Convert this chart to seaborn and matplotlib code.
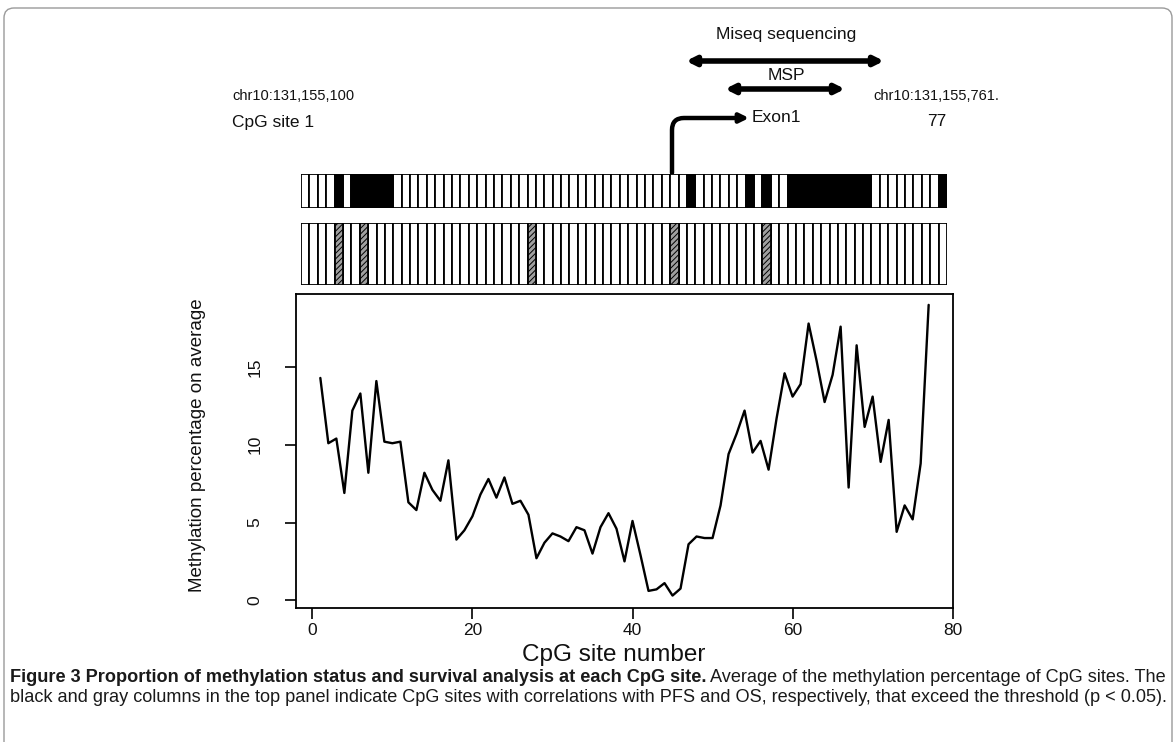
import matplotlib
matplotlib.use("Agg")
import matplotlib.pyplot as plt
import seaborn as sns
import pandas as pd
from matplotlib.patches import FancyBboxPatch

# ---------------- data ----------------
sites = list(range(1, 78))
methylation = [14.3, 10.1, 10.4, 6.9, 12.2, 13.3, 8.2, 14.1, 10.2, 10.1,
               10.2, 6.3, 5.8, 8.2, 7.1, 6.4, 9.0, 3.9, 4.5, 5.4,
               6.8, 7.8, 6.6, 7.9, 6.2, 6.4, 5.5, 2.7, 3.7, 4.3,
               4.1, 3.8, 4.7, 4.5, 3.0, 4.7, 5.6, 4.6, 2.5, 5.1,
               2.9, 0.6, 0.7, 1.1, 0.3, 0.75, 3.6, 4.1, 4.0, 4.0,
               6.1, 9.4, 10.7, 12.2, 9.5, 10.25, 8.4, 11.7, 14.6, 13.1,
               13.9, 17.8, 15.4, 12.75, 14.5, 17.6, 7.25, 16.4, 11.15, 13.1,
               8.9, 11.6, 4.4, 6.1, 5.2, 8.8, 19.0]
pfs_sites = [5, 7, 8, 9, 10, 11, 47, 54, 56, 59, 60, 61, 62, 63, 64, 65, 66, 67, 68, 77]
os_sites = [5, 8, 28, 45, 56]
x_ticks = [0, 20, 40, 60, 80]
y_ticks = [0, 5, 10, 15]

sns.set_theme(style="white")
plt.rcParams["font.family"] = ["Liberation Sans", "DejaVu Sans"]
plt.rcParams["hatch.linewidth"] = 0.7

W, H = 1176, 742
fig = plt.figure(figsize=(W / 100, H / 100), dpi=100)
fig.patch.set_facecolor("white")


def fr(x0, y0, x1, y1):
    return [x0 / W, 1 - y1 / H, (x1 - x0) / W, (y1 - y0) / H]


# ---------------- line plot ----------------
ax = fig.add_axes(fr(296, 294, 953, 608))
df = pd.DataFrame({"site": sites, "meth": methylation})
sns.lineplot(data=df, x="site", y="meth", color="black", linewidth=1.7, ax=ax)
ax.set_xlim(-2.04, 80.04)
ax.set_ylim(-0.5, 19.7)
ax.set_xticks(x_ticks)
ax.set_xticklabels([str(t) for t in x_ticks], fontsize=12.5)
ax.set_yticks(y_ticks)
ax.set_yticklabels([str(t) for t in y_ticks], fontsize=12.5, rotation=90, va="center")
ax.tick_params(axis="both", which="major", direction="out", length=8, width=1.2,
               color="black", labelcolor="#111111", bottom=True, left=True,
               top=False, right=False)
ax.tick_params(axis="x", pad=3)
ax.tick_params(axis="y", pad=16)
ax.set_xlabel("")
ax.set_ylabel("")
for s in ax.spines.values():
    s.set_visible(True)
    s.set_color("black")
    s.set_linewidth(1.3)

fig.text(614 / W, 1 - 655 / H, "CpG site number", fontsize=17.5, ha="center",
         va="center", color="#111111")
fig.text(197 / W, 1 - 445 / H, "Methylation percentage on average", fontsize=13.5,
         rotation=90, ha="center", va="center", color="#111111")

# ---------------- site status bars ----------------
def status_panel(axp, marked, color, hatch):
    status = ["yes" if s in marked else "no" for s in sites]
    dfp = pd.DataFrame({"site": sites, "h": [1] * len(sites), "status": status})
    sns.barplot(data=dfp, x="site", y="h", hue="status",
                palette={"yes": color, "no": "white"}, width=1, dodge=False,
                edgecolor="black", linewidth=1.3, legend=False, ax=axp)
    if hatch:
        for p in axp.patches:
            fc = p.get_facecolor()
            if fc[0] < 0.9:
                p.set_hatch(hatch)
    axp.set_xlim(-0.5, 76.5)
    axp.set_ylim(0, 1)
    axp.axis("off")


ax_pfs = fig.add_axes(fr(301, 174, 947, 208))
status_panel(ax_pfs, pfs_sites, "black", None)
ax_os = fig.add_axes(fr(301, 223, 947, 285))
status_panel(ax_os, os_sites, "#a0a0a0", "//////")

# ---------------- annotations ----------------
fig.text(232 / W, 1 - 96 / H, "chr10:131,155,100", fontsize=10.5, va="center", color="#111111")
fig.text(232 / W, 1 - 122 / H, "CpG site 1", fontsize=12.5, va="center", color="#111111")
fig.text(873 / W, 1 - 96 / H, "chr10:131,155,761.", fontsize=10.5, va="center", color="#111111")
fig.text(937 / W, 1 - 122 / H, "77", fontsize=12.5, va="center", ha="center", color="#111111")
fig.text(786 / W, 1 - 35 / H, "Miseq sequencing", fontsize=12.5, va="center", ha="center", color="#111111")
fig.text(786 / W, 1 - 76 / H, "MSP", fontsize=12.5, va="center", ha="center", color="#111111")
fig.text(752 / W, 1 - 118 / H, "Exon1", fontsize=12.5, va="center", ha="left", color="#111111")

arrow_kw = dict(arrowstyle="<|-|>", lw=4, color="black", mutation_scale=13,
                shrinkA=0, shrinkB=0)
ax.annotate("", xy=(884, H - 61), xytext=(686, H - 61), xycoords="figure pixels",
            textcoords="figure pixels", arrowprops=arrow_kw, annotation_clip=False)
ax.annotate("", xy=(845, H - 89), xytext=(725, H - 89), xycoords="figure pixels",
            textcoords="figure pixels", arrowprops=arrow_kw, annotation_clip=False)
ax.annotate("", xy=(749, H - 118), xytext=(672, H - 173), xycoords="figure pixels",
            textcoords="figure pixels",
            arrowprops=dict(arrowstyle="-|>", lw=3.2, color="black", mutation_scale=13,
                            shrinkA=0, shrinkB=0,
                            connectionstyle="angle,angleA=90,angleB=0,rad=12"),
            annotation_clip=False)

# ---------------- caption ----------------
fig.canvas.draw()
renderer = fig.canvas.get_renderer()
cap_bold = "Figure 3 Proportion of methylation status and survival analysis at each CpG site."
cap_rest1 = " Average of the methylation percentage of CpG sites. The"
cap_line2 = ("black and gray columns in the top panel indicate CpG sites with correlations "
             "with PFS and OS, respectively, that exceed the threshold (p < 0.05).")

fs = 12
t1 = fig.text(10 / W, 1 - 677 / H, cap_bold, fontsize=fs, fontweight="bold",
              va="center", color="#1a1a1a")
t2 = fig.text(0, 1 - 677 / H, cap_rest1, fontsize=fs, va="center", color="#1a1a1a")
w1 = t1.get_window_extent(renderer).width
w2 = t2.get_window_extent(renderer).width
scale = 1155 / (w1 + w2)
fs1 = fs * scale
t1.set_fontsize(fs1)
t2.set_fontsize(fs1)
w1 = t1.get_window_extent(renderer).width
t2.set_x((10 + w1) / W)
t3 = fig.text(10 / W, 1 - 698 / H, cap_line2, fontsize=fs1, va="center",
              color="#1a1a1a")

# frame
frame = FancyBboxPatch((4, -20), 1168, H - 8 + 20, boxstyle="round,pad=0,rounding_size=10",
                       transform=None, fill=False, edgecolor="#9a9a9a", linewidth=1.0)
fig.add_artist(frame)

fig.savefig("out.png", dpi=100, facecolor="white")
